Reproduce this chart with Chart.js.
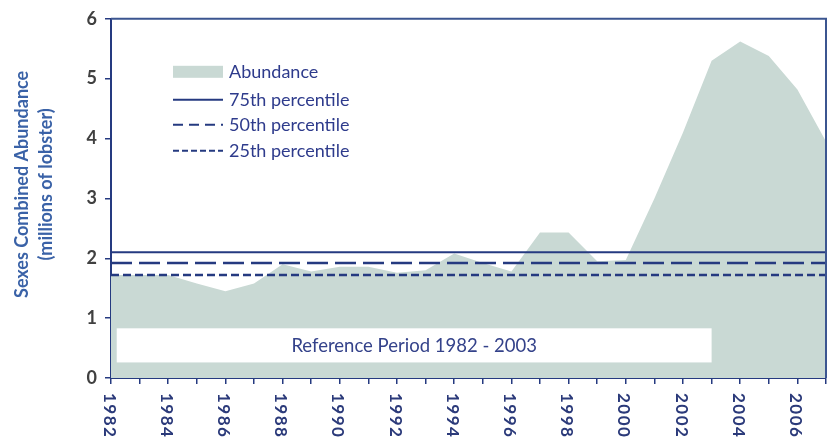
<!DOCTYPE html>
<html>
<head>
<meta charset="utf-8">
<script src="https://cdn.jsdelivr.net/npm/chart.js@4.4.0/dist/chart.umd.min.js"></script>
<style>
  html, body { margin: 0; padding: 0; background: #fff; }
  #wrap { width: 831px; height: 438px; position: relative; }
</style>
</head>
<body>
<div id="wrap"><canvas id="myChart"></canvas></div>
<script>
// data
var years = [1982, 1983, 1984, 1985, 1986, 1987, 1988, 1989, 1990, 1991, 1992, 1993, 1994,
             1995, 1996, 1997, 1998, 1999, 2000, 2001, 2002, 2003, 2004, 2005, 2006, 2007];
var abundance = [1.72, 1.72, 1.72, 1.58, 1.45, 1.58, 1.90, 1.78, 1.86, 1.86, 1.76, 1.80, 2.08,
                 1.92, 1.78, 2.43, 2.43, 1.95, 1.97, 3.00, 4.10, 5.30, 5.62, 5.38, 4.82, 3.95];
var pct75 = 2.10;
var pct50 = 1.92;
var pct25 = 1.72;
var refStart = 1982.2;
var refEnd = 2003;
var refLow = 0.26;
var refHigh = 0.83;
var refLabel = 'Reference Period 1982 - 2003';
var yTitle = ['Sexes Combined Abundance', '(millions of lobster)'];

var navy = '#253a80';
var fillColor = '#c9d9d4';

function flat(v) {
  return [{x: years[0], y: v}, {x: years[years.length - 1], y: v}];
}

var abundancePts = years.map(function(y, i){ return {x: y, y: abundance[i]}; });

// draws frame, reference box, legend, rotated year labels, y title
var extras = {
  id: 'extras',
  afterDatasetsDraw: function(chart) {
    var ctx = chart.ctx, xs = chart.scales.x, ys = chart.scales.y;
    // reference period box
    var x0 = xs.getPixelForValue(refStart), x1 = xs.getPixelForValue(refEnd);
    var y0 = ys.getPixelForValue(refHigh), y1 = ys.getPixelForValue(refLow);
    ctx.save();
    ctx.fillStyle = '#ffffff';
    ctx.fillRect(x0, y0, x1 - x0, y1 - y0);
    ctx.fillStyle = '#34428a';
    ctx.font = '18.5px Lato';
    ctx.textAlign = 'center';
    ctx.textBaseline = 'middle';
    ctx.fillText(refLabel, (x0 + x1) / 2, (y0 + y1) / 2 + 1);
    ctx.restore();
  },
  afterDraw: function(chart) {
    var ctx = chart.ctx, xs = chart.scales.x, a = chart.chartArea;
    ctx.save();
    // top and right frame
    ctx.strokeStyle = '#3b5590';
    ctx.lineWidth = 2;
    ctx.beginPath();
    ctx.moveTo(a.left, a.top);
    ctx.lineTo(a.right, a.top);
    ctx.lineTo(a.right, a.bottom);
    ctx.stroke();

    // legend
    var lx = a.left + 62, tx = a.left + 118;
    var rows = [a.top + 53, a.top + 81, a.top + 106, a.top + 132];
    ctx.fillStyle = fillColor;
    ctx.fillRect(lx, rows[0] - 6, 50, 12);
    ctx.strokeStyle = navy;
    ctx.lineWidth = 2;
    var dashes = [[], [10, 6], [6, 3]];
    for (var i = 0; i < 3; i++) {
      ctx.setLineDash(dashes[i]);
      ctx.beginPath();
      ctx.moveTo(lx, rows[i + 1]);
      ctx.lineTo(lx + 50, rows[i + 1]);
      ctx.stroke();
    }
    ctx.setLineDash([]);
    ctx.fillStyle = '#2e3b8c';
    ctx.font = '18px Lato';
    ctx.textBaseline = 'middle';
    var names = ['Abundance', '75th percentile', '50th percentile', '25th percentile'];
    names.forEach(function(n, i){ ctx.fillText(n, tx, rows[i]); });

    // year labels, rotated clockwise
    ctx.fillStyle = '#2b3a7a';
    ctx.font = 'bold 17px Lato';
    ctx.letterSpacing = '1.5px';
    ctx.textAlign = 'left';
    ctx.textBaseline = 'middle';
    years.forEach(function(yr){
      if (yr % 2 !== 0 || yr > 2006) return;
      var px = xs.getPixelForValue(yr);
      ctx.save();
      ctx.translate(px - 2, a.bottom + 15);
      ctx.rotate(Math.PI / 2);
      ctx.fillText(String(yr), 0, 0);
      ctx.restore();
    });
    ctx.letterSpacing = '0px';

    // y axis title
    ctx.fillStyle = '#3a62a7';
    ctx.font = 'bold 18px Lato';
    ctx.textAlign = 'center';
    ctx.textBaseline = 'middle';
    var cy = (a.top + a.bottom) / 2 - 14;
    ctx.save();
    ctx.translate(22, cy);
    ctx.rotate(-Math.PI / 2);
    ctx.fillText(yTitle[0], 0, 0);
    ctx.fillText(yTitle[1], 0, 24);
    ctx.restore();
    ctx.restore();
  }
};

var ctx1 = document.getElementById('myChart');
var myChart = new Chart(ctx1, {
  type: 'line',
  data: {
    datasets: [
      {
        label: 'Abundance',
        data: abundancePts,
        fill: 'origin',
        backgroundColor: fillColor,
        borderWidth: 0,
        borderColor: fillColor,
        pointRadius: 0,
        tension: 0,
        order: 5
      },
      { label: '75th percentile', data: flat(pct75), borderColor: navy, borderWidth: 2, pointRadius: 0, fill: false, order: 1 },
      { label: '50th percentile', data: flat(pct50), borderColor: navy, borderWidth: 2.5, borderDash: [21, 7], pointRadius: 0, fill: false, order: 1 },
      { label: '25th percentile', data: flat(pct25), borderColor: navy, borderWidth: 2.5, borderDash: [8, 4], pointRadius: 0, fill: false, order: 1 }
    ]
  },
  options: {
    responsive: true,
    maintainAspectRatio: false,
    animation: false,
    layout: { padding: { top: 15, right: 5, left: 0, bottom: 0 } },
    plugins: {
      legend: { display: false },
      tooltip: { enabled: false }
    },
    scales: {
      x: {
        type: 'linear',
        min: 1982,
        max: 2007,
        ticks: { stepSize: 1, autoSkip: false, callback: function(){ return ''; } },
        grid: { drawOnChartArea: false, drawTicks: true, tickLength: 6, color: navy, lineWidth: 1.5 },
        border: { display: true, color: navy, width: 2 },
        afterFit: function(s){ s.height = 60; }
      },
      y: {
        min: 0,
        max: 6,
        ticks: { stepSize: 1, color: '#404040', font: { family: 'Lato', size: 18, weight: 'bold' }, padding: 8 },
        grid: { drawOnChartArea: false, drawTicks: true, tickLength: 6, color: navy, lineWidth: 1.5 },
        border: { display: true, color: navy, width: 2 },
        afterFit: function(s){ s.width = 111; }
      }
    }
  },
  plugins: [extras]
});
</script>
</body>
</html>
